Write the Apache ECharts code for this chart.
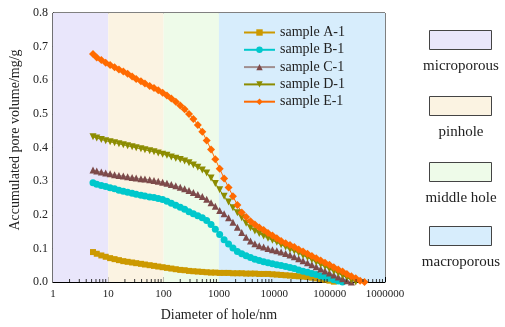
<!DOCTYPE html>
<html>
<head>
<meta charset="utf-8">
<script src="https://cdn.jsdelivr.net/npm/echarts@6/dist/echarts.min.js"></script>
<style>html,body{margin:0;padding:0;background:#fff}#c{width:505px;height:327px}</style>
</head>
<body>
<div id="c"></div>
<script>
// ---- data ----
const diameters = [5.3, 6.2, 7.5, 9, 10.8, 13, 15.6, 18.7, 22.4, 27, 32, 39, 46, 56, 67, 80, 96, 115, 138, 166, 200, 240, 288, 345, 415, 500, 600, 720, 860, 1030, 1240, 1490, 1790, 2150, 2580, 3100, 3720, 4460, 5350, 6420, 7700, 9250, 11100, 13300, 16000, 19200, 23000, 27600, 33100, 39800, 47700, 57300, 68800, 82500, 99000, 119000, 143000, 171000, 205000, 247000, 296000, 355000, 426000];
const sampleA = [0.089,0.084,0.079,0.075,0.071,0.068,0.065,0.062,0.060,0.058,0.056,0.054,0.052,0.050,0.048,0.046,0.044,0.042,0.040,0.038,0.036,0.035,0.033,0.032,0.031,0.030,0.029,0.028,0.028,0.027,0.027,0.027,0.026,0.026,0.026,0.025,0.025,0.025,0.024,0.024,0.024,0.023,0.022,0.021,0.020,0.019,0.018,0.017,0.016,0.015,0.013,0.011,0.009,0.007,0.004,0.001];
const sampleB = [0.295,0.291,0.287,0.284,0.280,0.277,0.273,0.270,0.267,0.264,0.261,0.258,0.256,0.253,0.251,0.248,0.245,0.240,0.234,0.228,0.222,0.216,0.209,0.203,0.197,0.191,0.183,0.171,0.157,0.141,0.126,0.113,0.101,0.091,0.084,0.078,0.073,0.068,0.064,0.060,0.057,0.054,0.051,0.049,0.046,0.043,0.040,0.036,0.032,0.029,0.025,0.022,0.018,0.014,0.011,0.007,0.003,0.000];
const sampleC = [0.333,0.330,0.327,0.324,0.322,0.319,0.317,0.315,0.313,0.311,0.309,0.307,0.306,0.304,0.302,0.300,0.297,0.294,0.290,0.286,0.282,0.277,0.272,0.266,0.260,0.254,0.246,0.236,0.225,0.213,0.203,0.191,0.178,0.163,0.147,0.133,0.122,0.114,0.108,0.104,0.100,0.096,0.093,0.089,0.085,0.080,0.075,0.069,0.063,0.057,0.051,0.045,0.039,0.033,0.027,0.021,0.015,0.010,0.004,0.000];
const sampleD = [0.432,0.428,0.424,0.420,0.417,0.414,0.411,0.408,0.405,0.402,0.399,0.396,0.393,0.390,0.387,0.384,0.380,0.377,0.372,0.368,0.364,0.360,0.355,0.348,0.341,0.333,0.324,0.309,0.293,0.274,0.255,0.238,0.221,0.206,0.191,0.175,0.161,0.152,0.144,0.137,0.130,0.124,0.118,0.111,0.104,0.097,0.092,0.086,0.079,0.073,0.066,0.059,0.052,0.046,0.039,0.032,0.026,0.019,0.013,0.006,0.000];
const sampleE = [0.678,0.668,0.660,0.652,0.645,0.639,0.632,0.626,0.619,0.611,0.604,0.597,0.590,0.583,0.577,0.570,0.563,0.555,0.546,0.536,0.525,0.514,0.500,0.485,0.467,0.447,0.421,0.394,0.365,0.337,0.308,0.281,0.255,0.229,0.207,0.193,0.181,0.171,0.162,0.155,0.146,0.138,0.130,0.122,0.115,0.110,0.104,0.097,0.091,0.084,0.077,0.071,0.064,0.057,0.051,0.044,0.037,0.031,0.024,0.017,0.011,0.004,0.000];
const seriesNames = ['sample A-1', 'sample B-1', 'sample C-1', 'sample D-1', 'sample E-1'];
const seriesValues = [sampleA, sampleB, sampleC, sampleD, sampleE];
const bandEdges = [1, 10, 100, 1000, 1000000];
const bandNames = ['microporous', 'pinhole', 'middle hole', 'macroporous'];
const xTicks = [1, 10, 100, 1000, 10000, 100000, 1000000];
const yTicks = [0, 0.1, 0.2, 0.3, 0.4, 0.5, 0.6, 0.7, 0.8];

// ---- styles ----
const FONT = "'Liberation Serif', 'DejaVu Serif', serif";
const bandColors = ['#e9e6fb', '#fbf3e2', '#eefbe9', '#d7edfc'];
const styles = [
  {symbol: 'rect', size: 6, color: '#cc9900', line: '#cc9900', rotate: 0},
  {symbol: 'circle', size: 7, color: '#00c8cc', line: '#00c8cc', rotate: 0},
  {symbol: 'triangle', size: 7, color: '#7d4a4a', line: '#a08e8e', rotate: 0},
  {symbol: 'triangle', size: 7, color: '#8c8c00', line: '#8c8c00', rotate: 180},
  {symbol: 'diamond', size: 8, color: '#ff6a00', line: '#ff6a00', rotate: 0}
];

const chart = echarts.init(document.getElementById('c'), null, {renderer: 'canvas'});

const minorTicks = [];
for (let i = 0; i < xTicks.length - 1; i++) {
  for (let m = 2; m <= 9; m++) minorTicks.push([xTicks[i] * m, 0]);
}

const series = [];
series.push({
  type: 'line', data: [], z: 1, silent: true,
  markArea: {
    silent: true,
    data: bandNames.map((n, i) => [
      {xAxis: bandEdges[i], itemStyle: {color: bandColors[i]}},
      {xAxis: bandEdges[i + 1]}
    ])
  }
});
seriesValues.forEach((vals, i) => {
  const st = styles[i];
  series.push({
    name: seriesNames[i], type: 'line', z: 3,
    data: vals.map((v, j) => [diameters[j], v]),
    symbol: st.symbol, symbolSize: st.size, symbolRotate: st.rotate,
    showAllSymbol: true,
    itemStyle: {color: st.color},
    lineStyle: {color: st.line, width: 1},
    emphasis: {disabled: true},
    animation: false
  });
});
series.push({
  type: 'custom', z: 4, silent: true, clip: false,
  data: minorTicks,
  renderItem: function (params, api) {
    const p = api.coord([api.value(0), 0]);
    return {type: 'line', shape: {x1: p[0], y1: p[1], x2: p[0], y2: p[1] - 3}, style: {stroke: '#333', lineWidth: 1}};
  },
  animation: false
});

const graphics = [];
const boxTops = [30, 96, 162, 226];
bandNames.forEach((n, i) => {
  graphics.push({type: 'rect', shape: {x: 429.5, y: boxTops[i] + 0.5, width: 62, height: 19},
    style: {fill: bandColors[i], stroke: '#444', lineWidth: 1}});
  graphics.push({type: 'text', x: 461, y: boxTops[i] + 36,
    style: {text: n, font: '15px ' + FONT, fill: '#222', align: 'center', verticalAlign: 'middle'}});
});

chart.setOption({
  animation: false,
  backgroundColor: '#fff',
  grid: {left: 48, right: 120, top: 13, bottom: 43, show: true, borderColor: '#000', borderWidth: 1, backgroundColor: 'transparent'},
  legend: {
    data: seriesNames, orient: 'vertical', left: 238, top: 20.5,
    itemWidth: 31, itemHeight: 8, itemGap: 3.3,
    textStyle: {fontFamily: FONT, fontSize: 14, lineHeight: 14, color: '#222'},
    selectedMode: false
  },
  xAxis: {
    type: 'log', logBase: 10, min: 1, max: 1000000,
    name: 'Diameter of hole/nm', nameLocation: 'middle', nameGap: 26,
    nameTextStyle: {fontFamily: FONT, fontSize: 14, color: '#222'},
    axisLine: {lineStyle: {color: '#000', width: 1}},
    axisTick: {inside: true, length: 5, lineStyle: {color: '#000'}},
    axisLabel: {fontFamily: FONT, fontSize: 11, color: '#222', margin: 7, formatter: v => String(Math.round(v))},
    splitLine: {show: false}
  },
  yAxis: {
    type: 'value', min: 0, max: 0.8, interval: 0.1,
    name: 'Accumulated pore volume/mg/g', nameLocation: 'middle', nameGap: 24,
    nameTextStyle: {fontFamily: FONT, fontSize: 14, color: '#222', padding: [0, 0, 0, 15]},
    axisLine: {show: true, lineStyle: {color: '#000', width: 1}},
    axisTick: {show: true, inside: true, length: 5, lineStyle: {color: '#000'}},
    axisLabel: {fontFamily: FONT, fontSize: 12, color: '#222', margin: 5, formatter: v => v.toFixed(1)},
    splitLine: {show: false}
  },
  series: series,
  graphic: graphics
});
</script>
</body>
</html>
